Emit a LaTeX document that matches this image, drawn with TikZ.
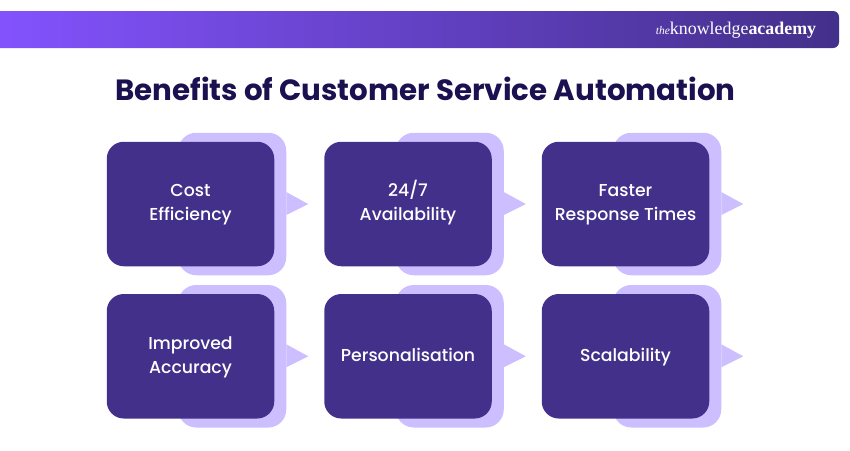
\documentclass[tikz,border=0pt]{standalone}
\usepackage{fontspec}
\setmainfont{Poppins}
\newfontfamily\cardfont{Poppins Medium}
\newfontfamily\logofont{Liberation Serif}
\usepackage{xcolor}
\usetikzlibrary{positioning,calc,backgrounds}
\definecolor{cardpurple}{HTML}{43308A}
\definecolor{backlilac}{HTML}{CDBFFF}
\definecolor{titleink}{HTML}{1B1150}
\definecolor{barleft}{HTML}{8352FD}
\newcommand{\cardline}[1]{\strut #1}
\tikzset{
 card/.style={rectangle,rounded corners=17pt,fill=cardpurple,text=white,minimum width=167.5pt,
   minimum height=124.5pt,inner sep=0pt,outer sep=0pt,align=center,font=\cardfont\fontsize{17.3}{24}\selectfont},
 back/.style={fill=backlilac},
 logo/.style={text=white,inner sep=0pt,font=\logofont\fontsize{17.9}{20}\selectfont},
 heading/.style={text=titleink,inner sep=0pt,font=\fontsize{29.3}{34}\selectfont\bfseries}
 }
\begin{document}
\begin{tikzpicture}[x=1pt,y=-1pt,node distance=50pt and 50pt]
      \useasboundingbox (0,0) rectangle (850,450);
      \shade[left color=barleft,right color=cardpurple] (0,48) [sharp corners] -- (0,11) [rounded corners=6pt] -- (839,11)
         -- (839,48) [sharp corners] -- cycle;
      \node[logo] (brand) at (736,30.5) {{\itshape\fontsize{11.5}{12}\selectfont the}knowledge\textbf{academy}};
      \node[heading] (title) at (425.5,89) {Benefits of Customer Service Automation};
      \node[card] (cost) at (190.5,204) {\cardline{Cost}\\\cardline{Efficiency}};
      \node[card,right=of cost] (avail) {\cardline{24/7}\\\cardline{Availability}};
      \node[card,right=of avail] (faster) {\cardline{Faster}\\\cardline{Response Times}};
      \node[card,below=27.75pt of cost] (accuracy) {\cardline{Improved}\\\cardline{Accuracy}};
      \node[card,right=of accuracy] (personal) {\cardline{Personalisation}};
      \node[card,right=of personal] (scale) {\cardline{Scalability}};
      \begin{scope}[on background layer]
      \foreach \c in {cost,avail,faster,accuracy,personal,scale}{
        \fill[back,rounded corners=18pt] ($(\c.north east)+(-96,-9)$) rectangle ($(\c.south east)+(12,9)$);
        \fill[back] ($(\c.east)+(12,-12)$) -- ($(\c.east)+(34,0)$) -- ($(\c.east)+(12,11)$) -- cycle;
      }
      \end{scope}
    \end{tikzpicture}
\end{document}
